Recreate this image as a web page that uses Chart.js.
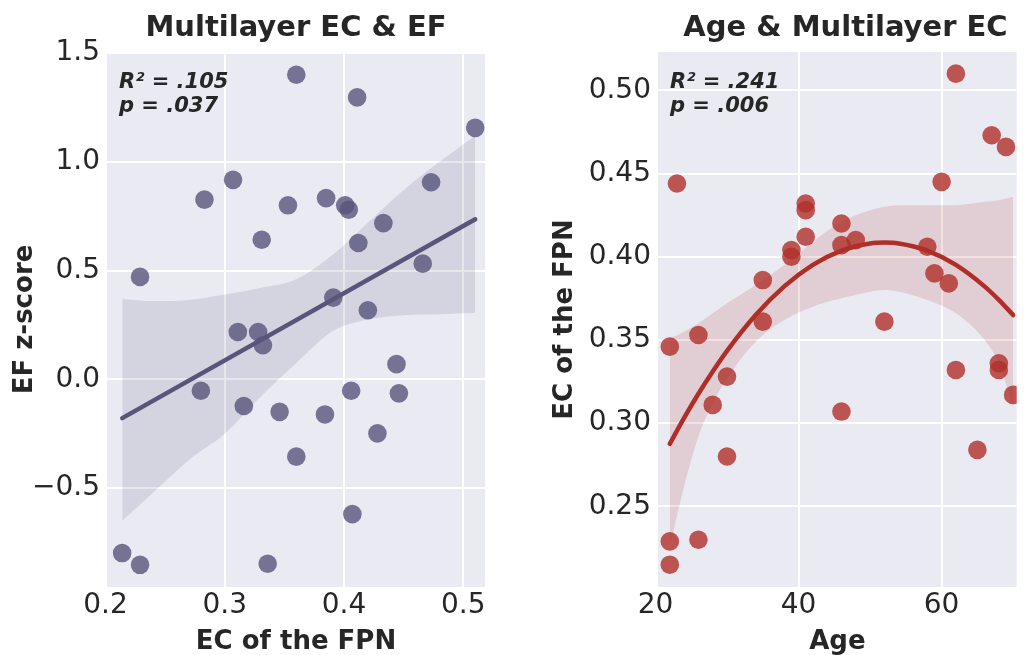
<!DOCTYPE html>
<html>
<head>
<meta charset="utf-8">
<script src="https://cdn.jsdelivr.net/npm/chart.js@4/dist/chart.umd.min.js"></script>
<style>
  html, body { margin: 0; padding: 0; background: #fff; }
  #wrap { position: relative; width: 1026px; height: 655px; overflow: hidden; }
  canvas { position: absolute; top: 0; }
  #left { left: 0; }
  #right { left: 520px; }
</style>
</head>
<body>
<div id="wrap">
  <canvas id="left" width="520" height="655"></canvas>
  <canvas id="right" width="506" height="655"></canvas>
</div>
<script>
// left panel: EC of the FPN vs EF z-score
const ecFpn = [0.360, 0.307, 0.283, 0.353, 0.331, 0.229, 0.411, 0.510, 0.473, 0.385, 0.401, 0.404, 0.433,
  0.412, 0.466, 0.391, 0.420, 0.311, 0.328, 0.332, 0.280, 0.316, 0.346, 0.360, 0.214, 0.229, 0.336,
  0.444, 0.406, 0.446, 0.384, 0.428, 0.407];
const efZ = [1.400, 0.917, 0.826, 0.800, 0.642, 0.471, 1.296, 1.156, 0.906, 0.833, 0.800, 0.780, 0.718,
  0.627, 0.532, 0.376, 0.318, 0.218, 0.218, 0.157, -0.052, -0.122, -0.149, -0.355, -0.798, -0.852, -0.847,
  0.070, -0.052, -0.064, -0.161, -0.248, -0.619];
const linFitX = [0.2141, 0.510];
const linFitY = [-0.178, 0.736];
const linBandX = [0.2141, 0.24, 0.27, 0.30, 0.33, 0.36, 0.39, 0.42, 0.45, 0.48, 0.510];
const linBandLow = [-0.65, -0.52, -0.37, -0.25, -0.08, 0.075, 0.22, 0.275, 0.295, 0.30, 0.305];
const linBandHigh = [0.37, 0.36, 0.365, 0.39, 0.42, 0.46, 0.57, 0.72, 0.87, 1.00, 1.12];
const leftXTicks = [0.2, 0.3, 0.4, 0.5];
const leftXTickLabels = ['0.2', '0.3', '0.4', '0.5'];
const leftYTicks = [-0.5, 0, 0.5, 1.0, 1.5];
const leftYTickLabels = ['\u22120.5', '0.0', '0.5', '1.0', '1.5'];

// right panel: age vs EC of the FPN
const ages = [23, 41, 41, 46, 41, 39, 39, 35, 46, 35, 26, 62, 67, 69, 60, 48, 58, 59, 61, 52, 22, 30,
  28, 30, 22, 26, 22, 46, 62, 68, 68, 70, 65];
const ecAge = [0.444, 0.432, 0.428, 0.420, 0.412, 0.404, 0.400, 0.386, 0.407, 0.361, 0.353, 0.510, 0.473,
  0.466, 0.445, 0.410, 0.406, 0.390, 0.384, 0.361, 0.346, 0.328, 0.311, 0.280, 0.229, 0.230, 0.215,
  0.307, 0.332, 0.336, 0.332, 0.317, 0.284];
const quadFitX = [22, 24, 26, 28, 30, 34, 38, 42, 46, 50, 52, 54, 58, 62, 66, 68, 70];
const quadFitY = [0.2876, 0.3032, 0.3177, 0.3311, 0.3435, 0.3650, 0.3822, 0.3951, 0.4037, 0.4080,
  0.4085, 0.4080, 0.4037, 0.3951, 0.3822, 0.3741, 0.3650];
const quadBandLow = [0.226, 0.262, 0.292, 0.312, 0.327, 0.349, 0.362, 0.370, 0.375, 0.379, 0.380,
  0.379, 0.374, 0.366, 0.350, 0.336, 0.310];
const quadBandHigh = [0.351, 0.355, 0.360, 0.366, 0.372, 0.383, 0.395, 0.409, 0.421, 0.428, 0.430,
  0.431, 0.431, 0.431, 0.433, 0.434, 0.436];
const rightXTicks = [20, 40, 60];
const rightXTickLabels = ['20', '40', '60'];
const rightYTicks = [0.25, 0.30, 0.35, 0.40, 0.45, 0.50];
const rightYTickLabels = ['0.25', '0.30', '0.35', '0.40', '0.45', '0.50'];

const FONT = 'DejaVu Sans';
const TEXT = '#262626';

const pts = (xs, ys) => xs.map((x, i) => ({ x: x, y: ys[i] }));

// plot background, panel title and the R²/p note
const panelDeco = {
  id: 'panelDeco',
  beforeDraw(chart) {
    const a = chart.chartArea, ctx = chart.ctx;
    ctx.save();
    ctx.fillStyle = '#eaeaf2';
    ctx.fillRect(a.left, a.top, a.right - a.left, a.bottom - a.top);
    ctx.restore();
  },
  afterDraw(chart, args, opts) {
    const a = chart.chartArea, ctx = chart.ctx;
    ctx.save();
    ctx.fillStyle = TEXT;
    ctx.textAlign = 'center';
    ctx.textBaseline = 'alphabetic';
    ctx.font = 'bold 29px "' + FONT + '"';
    ctx.fillText(opts.title, opts.titleX, 36);
    ctx.textAlign = 'left';
    ctx.font = 'italic bold 21px "' + FONT + '"';
    opts.stats.forEach((s, i) => ctx.fillText(s, a.left + 12, a.top + 36 + i * 23.5));
    ctx.restore();
  }
};

function axes(o) {
  const tickFont = { family: FONT, size: 28 };
  const titleFont = { family: FONT, size: 26, weight: 'bold', lineHeight: 1 };
  return {
    x: {
      type: 'linear', min: o.xMin, max: o.xMax,
      afterFit: s => { s.height = 68; },
      afterBuildTicks: s => { s.ticks = o.xTicks.map(v => ({ value: v })); },
      ticks: { autoSkip: false, maxRotation: 0, padding: 2, color: TEXT, font: tickFont,
        callback: (v, i) => o.xLabels[i] },
      grid: { color: '#ffffff', lineWidth: 2, drawTicks: false },
      border: { display: false },
      title: { display: true, text: o.xTitle, color: TEXT, font: titleFont, padding: { top: 0, bottom: 0 } }
    },
    y: {
      type: 'linear', min: o.yMin, max: o.yMax,
      afterFit: s => { s.width = o.yWidth; },
      afterBuildTicks: s => { s.ticks = o.yTicks.map(v => ({ value: v })); },
      ticks: { autoSkip: false, padding: 7, color: TEXT, font: tickFont,
        callback: (v, i) => o.yLabels[i] },
      grid: { color: '#ffffff', lineWidth: 2, drawTicks: false },
      border: { display: false },
      title: { display: true, text: o.yTitle, color: TEXT, font: titleFont, padding: { top: o.yTitlePad, bottom: 0 } }
    }
  };
}

function datasets(sx, sy, bx, lo, hi, fx, fy, rgb) {
  return [
    { type: 'scatter', data: pts(sx, sy), backgroundColor: 'rgba(' + rgb + ',0.8)', borderWidth: 0,
      pointRadius: 9.3, pointHoverRadius: 9.3, order: 3 },
    { type: 'line', data: pts(bx, lo), borderColor: 'rgba(0,0,0,0)', borderWidth: 0, pointRadius: 0,
      fill: false, cubicInterpolationMode: 'monotone', order: 2 },
    { type: 'line', data: pts(bx, hi), borderColor: 'rgba(0,0,0,0)', borderWidth: 0, pointRadius: 0,
      fill: '-1', backgroundColor: 'rgba(' + rgb + ',0.15)', cubicInterpolationMode: 'monotone', order: 2 },
    { type: 'line', data: pts(fx, fy), borderColor: 'rgb(' + rgb + ')', borderWidth: 4.5, pointRadius: 0,
      fill: false, cubicInterpolationMode: 'monotone', borderCapStyle: 'round', order: 0 }
  ];
}

function baseOptions(padRight, scales, deco) {
  return {
    responsive: false, animation: false, devicePixelRatio: 1, events: [],
    layout: { padding: { top: 52, right: padRight, bottom: 0, left: 0 } },
    scales: scales,
    plugins: { legend: { display: false }, tooltip: { enabled: false }, panelDeco: deco }
  };
}

new Chart(document.getElementById('left'), {
  type: 'scatter',
  data: { datasets: datasets(ecFpn, efZ, linBandX, linBandLow, linBandHigh, linFitX, linFitY, '88,84,122') },
  options: baseOptions(35, axes({
    xMin: 0.2013, xMax: 0.5182, yMin: -0.954, yMax: 1.5046,
    xTicks: leftXTicks, xLabels: leftXTickLabels, yTicks: leftYTicks, yLabels: leftYTickLabels,
    xTitle: 'EC of the FPN', yTitle: 'EF z-score', yWidth: 107, yTitlePad: 12
  }), { title: 'Multilayer EC & EF', titleX: 296, stats: ['R\u00b2 = .105', 'p = .037'] }),
  plugins: [panelDeco]
});

new Chart(document.getElementById('right'), {
  type: 'scatter',
  data: { datasets: datasets(ages, ecAge, quadFitX, quadBandLow, quadBandHigh, quadFitX, quadFitY, '176,46,40') },
  options: baseOptions(0, axes({
    xMin: 20.35, xMax: 70.5, yMin: 0.2016, yMax: 0.523,
    xTicks: rightXTicks, xLabels: rightXTickLabels, yTicks: rightYTicks, yLabels: rightYTickLabels,
    xTitle: 'Age', yTitle: 'EC of the FPN', yWidth: 138, yTitlePad: 32
  }), { title: 'Age & Multilayer EC', titleX: 325.5, stats: ['R\u00b2 = .241', 'p = .006'] }),
  plugins: [panelDeco]
});
</script>
</body>
</html>
